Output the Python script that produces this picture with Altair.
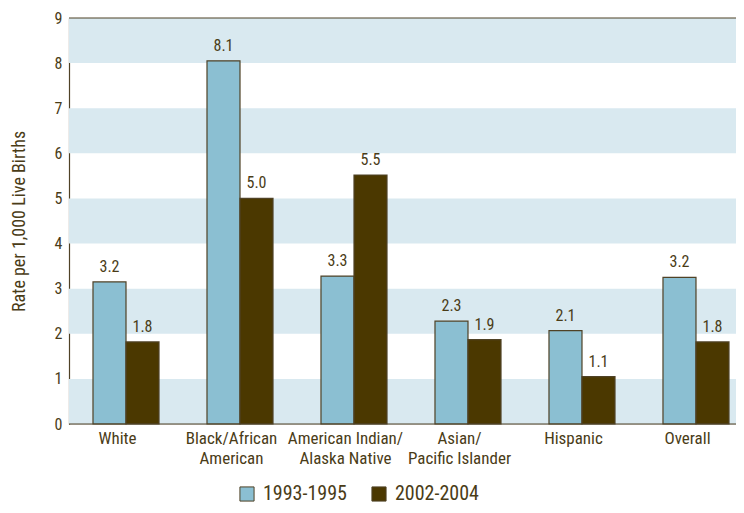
import altair as alt
import pandas as pd

categories = ["White", "Black/African|American", "American Indian/|Alaska Native",
              "Asian/|Pacific Islander", "Hispanic", "Overall"]
series = ["1993-1995", "2002-2004"]
values_1993 = [3.15, 8.05, 3.28, 2.28, 2.07, 3.25]
values_2002 = [1.82, 5.0, 5.52, 1.87, 1.05, 1.82]
labels_1993 = ["3.2", "8.1", "3.3", "2.3", "2.1", "3.2"]
labels_2002 = ["1.8", "5.0", "5.5", "1.9", "1.1", "1.8"]
band_starts = [0, 2, 4, 6, 8]
y_ticks = [0, 1, 2, 3, 4, 5, 6, 7, 8, 9]

rows = []
for c, v, l in zip(categories, values_1993, labels_1993):
    rows.append({"cat": c, "series": series[0], "value": v, "label": l})
for c, v, l in zip(categories, values_2002, labels_2002):
    rows.append({"cat": c, "series": series[1], "value": v, "label": l})
df = pd.DataFrame(rows)
bands = pd.DataFrame({"lo": band_starts, "hi": [b + 1 for b in band_starts]})
top = pd.DataFrame({"v": [9]})
bottom = pd.DataFrame({"v": [0]})

FONT = "Roboto Condensed"
TXT = "#4a3c17"
LINE = "#4f4226"
W = 667
H = 406

yscale = alt.Scale(domain=[0, 9], nice=False)
xscale = alt.Scale(domain=categories, paddingInner=0.149, paddingOuter=0)
xoff = alt.Scale(domain=series, paddingInner=0, paddingOuter=0.4697, align=0.774)

bg = alt.Chart(bands).mark_rect(color="#d9e9f0").encode(
    y=alt.Y("lo:Q", scale=yscale),
    y2="hi:Q",
    x=alt.value(0),
    x2=alt.value(W),
)

bars = alt.Chart(df).mark_bar(stroke=LINE, strokeWidth=1.2).encode(
    x=alt.X("cat:N", scale=xscale, sort=categories,
            axis=alt.Axis(title=None, domain=False, ticks=False, labelAngle=0,
                          labelExpr="split(datum.label, '|')",
                          labelFont=FONT, labelFontSize=17, labelColor=TXT,
                          labelPadding=6, labelLineHeight=20, labelBaseline="top")),
    xOffset=alt.XOffset("series:N", sort=series, scale=xoff),
    y=alt.Y("value:Q", scale=yscale,
            axis=alt.Axis(title="Rate per 1,000 Live Births", values=y_ticks, grid=False,
                          ticks=False, domainColor=LINE, domainWidth=1.2,
                          labelFont=FONT, labelFontSize=16, labelColor=TXT, labelPadding=7,
                          titleFont=FONT, titleFontSize=18, titleFontWeight="normal",
                          titleColor=TXT, titleX=-50, titleY=203, titleAngle=-90,
                          titleAlign="center", titleBaseline="middle")),
    fill=alt.Fill("series:N", sort=series,
                  scale=alt.Scale(domain=series, range=["#8bbfd2", "#4b3800"]),
                  legend=alt.Legend(title=None, orient="none", legendX=168, legendY=466,
                                    direction="horizontal", symbolType="square",
                                    symbolSize=200, symbolStrokeColor=LINE,
                                    symbolStrokeWidth=1, labelFont=FONT, labelFontSize=20,
                                    labelColor=TXT, columnPadding=22, labelOffset=6,
                                    padding=0)),
)

texts = alt.Chart(df).mark_text(font=FONT, fontSize=16, color=TXT, baseline="bottom", dy=-7).encode(
    x=alt.X("cat:N", scale=xscale, sort=categories),
    xOffset=alt.XOffset("series:N", sort=series, scale=xoff),
    y=alt.Y("value:Q", scale=yscale),
    text="label:N",
)

top_rule = alt.Chart(top).mark_rule(color=LINE, strokeWidth=1.2).encode(
    y=alt.Y("v:Q", scale=yscale), x=alt.value(0), x2=alt.value(W))
bottom_rule = alt.Chart(bottom).mark_rule(color=LINE, strokeWidth=1.2).encode(
    y=alt.Y("v:Q", scale=yscale), x=alt.value(0), x2=alt.value(W))

chart = alt.layer(bg, bars, texts, top_rule, bottom_rule).properties(
    width=W, height=H,
    autosize=alt.AutoSizeParams(type="none"),
    padding={"left": 61, "top": 10, "right": 0, "bottom": 81},
).configure_view(stroke=None).configure(background="white")

chart.save("out.html", embed_options={"renderer": "svg", "actions": False})
